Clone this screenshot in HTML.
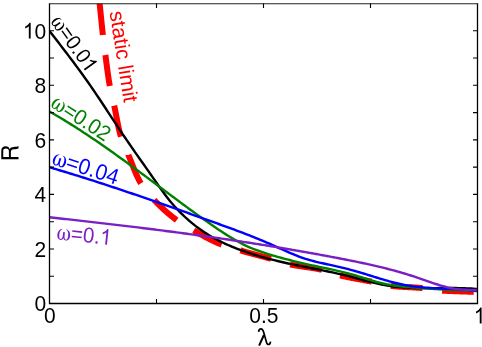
<!DOCTYPE html>
<html><head><meta charset="utf-8"><title>chart</title>
<style>html,body{margin:0;padding:0;background:#fff;}body{width:482px;height:347px;overflow:hidden;position:relative;font-family:"Liberation Sans",sans-serif;}</style>
</head><body>
<svg width="482" height="347" viewBox="0 0 482 347" style="position:absolute;left:0;top:0;will-change:transform">
<defs><clipPath id="c"><rect x="49.5" y="3.5" width="428" height="300"/></clipPath></defs>
<rect width="482" height="347" fill="#fff"/>
<g clip-path="url(#c)" fill="none" stroke-linejoin="round">
<path d="M96.50,-25.00 L96.50,-25.00 L96.61,-24.04 L96.71,-23.08 L96.82,-22.12 L96.93,-21.16 L97.03,-20.20 L97.14,-19.24 L97.25,-18.28 L97.35,-17.32 L97.46,-16.36 L97.57,-15.40 L97.67,-14.44 L97.78,-13.48 L97.88,-12.52 L97.99,-11.56 L98.09,-10.60 L98.20,-9.64 L98.30,-8.68 L98.41,-7.72 L98.51,-6.76 L98.62,-5.80 L98.72,-4.84 L98.82,-3.88 L98.93,-2.92 L99.03,-1.96 L99.14,-1.00 L99.24,-0.04 L99.34,0.92 L99.44,1.88 L99.55,2.84 L99.65,3.80 L99.75,4.76 L99.85,5.72 L99.95,6.68 L100.05,7.64 L100.15,8.60 L100.25,9.56 L100.35,10.53 L100.45,11.49 L100.54,12.45 L100.64,13.41 L100.74,14.37 L100.84,15.33 L100.93,16.29 L101.03,17.25 L101.13,18.21 L101.22,19.17 L101.32,20.13 L101.42,21.10 L101.51,22.06 L101.61,23.02 L101.71,23.98 L101.81,24.94 L101.91,25.90 L102.01,26.86 L102.11,27.82 L102.21,28.78 L102.32,29.74 L102.42,30.70 L102.53,31.66 L102.63,32.62 L102.74,33.58 L102.85,34.54 L102.90,35.00" stroke="#ff0000" stroke-width="6"/>
<path d="M105.40,55.00 L105.48,55.62 L105.61,56.58 L105.73,57.54 L105.86,58.50 L105.98,59.45 L106.11,60.41 L106.23,61.37 L106.35,62.33 L106.48,63.29 L106.60,64.25 L106.73,65.21 L106.85,66.16 L106.98,67.12 L107.10,68.08 L107.23,69.04 L107.36,70.00 L107.49,70.96 L107.62,71.91 L107.75,72.87 L107.89,73.83 L108.02,74.78 L108.16,75.74 L108.30,76.70 L108.44,77.65 L108.59,78.60 L108.73,79.56 L108.88,80.51 L109.04,81.46 L109.19,82.42 L109.35,83.37 L109.51,84.32 L109.67,85.27 L109.80,86.00" stroke="#ff0000" stroke-width="6"/>
<path d="M114.20,105.60 L114.29,106.00 L114.49,106.95 L114.69,107.90 L114.89,108.84 L115.08,109.79 L115.27,110.74 L115.46,111.69 L115.65,112.65 L115.83,113.60 L116.01,114.55 L116.20,115.50 L116.38,116.46 L116.56,117.41 L116.74,118.36 L116.93,119.32 L117.11,120.27 L117.30,121.22 L117.48,122.17 L117.67,123.12 L117.86,124.07 L118.06,125.02 L118.26,125.96 L118.46,126.91 L118.67,127.85 L118.88,128.79 L119.09,129.73 L119.31,130.67 L119.54,131.60 L119.77,132.53 L120.01,133.46 L120.25,134.39 L120.50,135.31 L120.76,136.23 L120.90,136.70" stroke="#ff0000" stroke-width="6"/>
<path d="M128.40,155.00 L128.40,155.01 L128.78,155.90 L129.15,156.79 L129.52,157.69 L129.88,158.59 L130.24,159.50 L130.61,160.40 L130.96,161.31 L131.32,162.21 L131.68,163.12 L132.04,164.03 L132.40,164.94 L132.76,165.85 L133.12,166.76 L133.48,167.66 L133.85,168.57 L134.21,169.47 L134.59,170.37 L134.96,171.27 L135.34,172.16 L135.72,173.05 L136.11,173.94 L136.50,174.82 L136.90,175.70 L137.31,176.57 L137.72,177.43 L138.14,178.29 L138.57,179.15 L139.01,179.99 L139.45,180.83 L139.91,181.66 L140.37,182.49 L140.84,183.30 L140.90,183.40" stroke="#ff0000" stroke-width="6"/>
<path d="M154.20,200.00 L154.76,200.60 L155.42,201.29 L156.09,201.98 L156.76,202.67 L157.43,203.36 L158.11,204.05 L158.80,204.73 L159.49,205.41 L160.18,206.09 L160.88,206.77 L161.58,207.44 L162.29,208.10 L163.00,208.77 L163.72,209.43 L164.43,210.09 L165.16,210.74 L165.88,211.38 L166.61,212.03 L167.35,212.66 L168.09,213.30 L168.83,213.93 L169.57,214.55 L170.32,215.17 L171.07,215.78 L171.82,216.38 L172.58,216.98 L173.34,217.58 L174.10,218.16 L174.87,218.74 L175.63,219.32 L176.40,219.88 L176.70,220.10" stroke="#ff0000" stroke-width="6"/>
<path d="M193.70,230.50 L194.52,230.96 L195.37,231.43 L196.21,231.90 L197.05,232.38 L197.90,232.85 L198.74,233.32 L199.59,233.79 L200.44,234.26 L201.29,234.73 L202.14,235.20 L202.99,235.67 L203.84,236.13 L204.70,236.60 L205.55,237.05 L206.41,237.51 L207.27,237.96 L208.13,238.41 L208.99,238.86 L209.86,239.29 L210.72,239.73 L211.59,240.16 L212.46,240.58 L213.33,241.00 L214.20,241.41 L215.08,241.82 L215.96,242.21 L216.84,242.60 L217.72,242.99 L218.60,243.36 L219.49,243.73 L220.38,244.09 L221.27,244.44 L221.70,244.60" stroke="#ff0000" stroke-width="6"/>
<path d="M240.40,250.40 L240.63,250.47 L241.55,250.74 L242.48,251.00 L243.41,251.27 L244.34,251.53 L245.27,251.79 L246.20,252.05 L247.13,252.31 L248.06,252.57 L248.99,252.82 L249.92,253.08 L250.86,253.33 L251.79,253.58 L252.72,253.83 L253.65,254.08 L254.59,254.33 L255.52,254.58 L256.45,254.83 L257.39,255.08 L258.32,255.33 L259.25,255.58 L260.18,255.83 L261.12,256.08 L262.05,256.33 L262.98,256.58 L263.92,256.84 L264.85,257.09 L265.78,257.35 L266.71,257.60 L267.64,257.86 L268.57,258.12 L269.50,258.38 L270.43,258.64 L271.00,258.80" stroke="#ff0000" stroke-width="6"/>
<path d="M290.10,264.40 L290.83,264.56 L291.77,264.76 L292.72,264.94 L293.66,265.13 L294.61,265.30 L295.56,265.47 L296.51,265.64 L297.46,265.80 L298.42,265.95 L299.37,266.10 L300.33,266.25 L301.29,266.39 L302.25,266.54 L303.21,266.68 L304.17,266.82 L305.13,266.96 L306.08,267.09 L307.04,267.23 L308.00,267.37 L308.96,267.51 L309.92,267.65 L310.88,267.80 L311.84,267.94 L312.79,268.09 L313.75,268.25 L314.70,268.40 L315.65,268.57 L316.60,268.73 L317.55,268.91 L318.49,269.09 L319.44,269.28 L320.38,269.47 L321.32,269.67 L321.90,269.80" stroke="#ff0000" stroke-width="6"/>
<path d="M340.10,275.40 L340.72,275.55 L341.65,275.78 L342.59,276.00 L343.53,276.21 L344.47,276.42 L345.41,276.63 L346.36,276.83 L347.30,277.03 L348.24,277.22 L349.19,277.41 L350.14,277.60 L351.09,277.79 L352.03,277.97 L352.98,278.15 L353.93,278.33 L354.88,278.51 L355.83,278.68 L356.79,278.86 L357.74,279.03 L358.69,279.21 L359.64,279.38 L360.59,279.56 L361.54,279.73 L362.49,279.91 L363.45,280.08 L364.40,280.26 L365.35,280.44 L366.30,280.62 L367.25,280.80 L368.19,280.99 L369.14,281.18 L370.09,281.37 L371.04,281.56 L371.70,281.70" stroke="#ff0000" stroke-width="6"/>
<path d="M390.90,285.90 L391.80,286.00 L392.76,286.09 L393.71,286.19 L394.67,286.27 L395.63,286.36 L396.59,286.43 L397.55,286.51 L398.51,286.58 L399.47,286.64 L400.44,286.71 L401.40,286.77 L402.37,286.83 L403.33,286.88 L404.30,286.94 L405.26,286.99 L406.23,287.05 L407.20,287.10 L408.16,287.15 L409.13,287.20 L410.10,287.25 L411.07,287.31 L412.03,287.36 L413.00,287.41 L413.97,287.47 L414.93,287.53 L415.90,287.59 L416.86,287.66 L417.83,287.72 L418.79,287.79 L419.76,287.87 L420.72,287.94 L421.68,288.03 L422.50,288.10" stroke="#ff0000" stroke-width="6"/>
<path d="M442.10,290.60 L442.76,290.64 L443.72,290.70 L444.69,290.76 L445.65,290.81 L446.61,290.86 L447.57,290.91 L448.54,290.95 L449.50,291.00 L450.47,291.04 L451.43,291.08 L452.40,291.12 L453.36,291.15 L454.33,291.19 L455.29,291.22 L456.26,291.26 L457.22,291.29 L458.19,291.32 L459.16,291.35 L460.12,291.39 L461.09,291.42 L462.05,291.45 L463.02,291.48 L463.99,291.51 L464.95,291.55 L465.92,291.58 L466.88,291.61 L467.85,291.65 L468.82,291.69 L469.78,291.72 L470.75,291.76 L471.71,291.80 L472.68,291.85 L473.64,291.89 L473.80,291.90" stroke="#ff0000" stroke-width="6"/>
<path d="M49.50,30.90 L51.65,33.71 L53.80,36.51 L55.95,39.31 L58.10,42.10 L60.25,44.89 L62.40,47.69 L64.56,50.50 L66.71,53.31 L68.86,56.13 L71.01,58.97 L73.16,61.83 L75.31,64.70 L77.46,67.60 L79.61,70.52 L81.76,73.47 L83.91,76.45 L86.06,79.47 L88.21,82.52 L90.36,85.61 L92.52,88.73 L94.67,91.89 L96.82,95.08 L98.97,98.29 L101.12,101.52 L103.27,104.77 L105.42,108.03 L107.57,111.29 L109.72,114.57 L111.87,117.84 L114.02,121.11 L116.17,124.37 L118.32,127.61 L120.47,130.84 L122.63,134.05 L124.78,137.24 L126.93,140.40 L129.08,143.53 L131.23,146.65 L133.38,149.74 L135.53,152.82 L137.68,155.88 L139.83,158.94 L141.98,162.00 L144.13,165.05 L146.28,168.11 L148.43,171.17 L150.59,174.25 L152.74,177.34 L154.89,180.43 L157.04,183.52 L159.19,186.58 L161.34,189.60 L163.49,192.55 L165.64,195.43 L167.79,198.21 L169.94,200.88 L172.09,203.46 L174.24,205.94 L176.39,208.33 L178.55,210.63 L180.70,212.84 L182.85,214.96 L185.00,217.00 L187.15,218.96 L189.30,220.85 L191.45,222.67 L193.60,224.41 L195.75,226.09 L197.90,227.71 L200.05,229.26 L202.20,230.76 L204.35,232.20 L206.51,233.59 L208.66,234.93 L210.81,236.22 L212.96,237.46 L215.11,238.66 L217.26,239.81 L219.41,240.93 L221.56,242.00 L223.71,243.04 L225.86,244.04 L228.01,245.00 L230.16,245.93 L232.31,246.83 L234.46,247.70 L236.62,248.55 L238.77,249.36 L240.92,250.16 L243.07,250.93 L245.22,251.68 L247.37,252.41 L249.52,253.13 L251.67,253.82 L253.82,254.50 L255.97,255.16 L258.12,255.81 L260.27,256.44 L262.42,257.06 L264.58,257.66 L266.73,258.24 L268.88,258.82 L271.03,259.38 L273.18,259.92 L275.33,260.46 L277.48,260.99 L279.63,261.50 L281.78,262.00 L283.93,262.50 L286.08,262.98 L288.23,263.46 L290.38,263.93 L292.54,264.39 L294.69,264.84 L296.84,265.29 L298.99,265.73 L301.14,266.17 L303.29,266.60 L305.44,267.03 L307.59,267.45 L309.74,267.87 L311.89,268.29 L314.04,268.71 L316.19,269.13 L318.34,269.55 L320.49,269.98 L322.65,270.41 L324.80,270.84 L326.95,271.28 L329.10,271.72 L331.25,272.18 L333.40,272.64 L335.55,273.11 L337.70,273.59 L339.85,274.09 L342.00,274.60 L344.15,275.12 L346.30,275.65 L348.45,276.20 L350.61,276.76 L352.76,277.33 L354.91,277.91 L357.06,278.49 L359.21,279.07 L361.36,279.65 L363.51,280.22 L365.66,280.79 L367.81,281.35 L369.96,281.90 L372.11,282.43 L374.26,282.94 L376.41,283.44 L378.57,283.92 L380.72,284.37 L382.87,284.79 L385.02,285.19 L387.17,285.55 L389.32,285.88 L391.47,286.19 L393.62,286.46 L395.77,286.71 L397.92,286.94 L400.07,287.14 L402.22,287.31 L404.37,287.47 L406.53,287.60 L408.68,287.72 L410.83,287.82 L412.98,287.90 L415.13,287.97 L417.28,288.02 L419.43,288.06 L421.58,288.09 L423.73,288.11 L425.88,288.12 L428.03,288.12 L430.18,288.12 L432.33,288.11 L434.48,288.10 L436.64,288.08 L438.79,288.07 L440.94,288.05 L443.09,288.04 L445.24,288.03 L447.39,288.02 L449.54,288.01 L451.69,288.02 L453.84,288.03 L455.99,288.05 L458.14,288.08 L460.29,288.12 L462.44,288.18 L464.60,288.24 L466.75,288.33 L468.90,288.43 L471.05,288.55 L473.20,288.69 L475.35,288.84 L477.50,289.02" stroke="#000" stroke-width="2.4"/>
<path d="M49.50,111.51 L51.65,112.73 L53.80,113.97 L55.95,115.22 L58.10,116.49 L60.25,117.77 L62.40,119.06 L64.56,120.37 L66.71,121.68 L68.86,123.02 L71.01,124.36 L73.16,125.71 L75.31,127.08 L77.46,128.46 L79.61,129.84 L81.76,131.24 L83.91,132.65 L86.06,134.07 L88.21,135.50 L90.36,136.94 L92.52,138.39 L94.67,139.85 L96.82,141.32 L98.97,142.79 L101.12,144.28 L103.27,145.77 L105.42,147.27 L107.57,148.78 L109.72,150.29 L111.87,151.82 L114.02,153.34 L116.17,154.88 L118.32,156.42 L120.47,157.97 L122.63,159.52 L124.78,161.08 L126.93,162.65 L129.08,164.21 L131.23,165.79 L133.38,167.37 L135.53,168.95 L137.68,170.53 L139.83,172.12 L141.98,173.72 L144.13,175.31 L146.28,176.91 L148.43,178.51 L150.59,180.11 L152.74,181.72 L154.89,183.33 L157.04,184.94 L159.19,186.54 L161.34,188.16 L163.49,189.77 L165.64,191.38 L167.79,192.99 L169.94,194.60 L172.09,196.20 L174.24,197.81 L176.39,199.41 L178.55,201.01 L180.70,202.61 L182.85,204.20 L185.00,205.79 L187.15,207.37 L189.30,208.95 L191.45,210.52 L193.60,212.09 L195.75,213.64 L197.90,215.19 L200.05,216.74 L202.20,218.27 L204.35,219.79 L206.51,221.31 L208.66,222.81 L210.81,224.30 L212.96,225.79 L215.11,227.26 L217.26,228.71 L219.41,230.16 L221.56,231.59 L223.71,233.00 L225.86,234.38 L228.01,235.75 L230.16,237.08 L232.31,238.38 L234.46,239.65 L236.62,240.88 L238.77,242.07 L240.92,243.22 L243.07,244.32 L245.22,245.37 L247.37,246.38 L249.52,247.33 L251.67,248.24 L253.82,249.10 L255.97,249.93 L258.12,250.72 L260.27,251.48 L262.42,252.22 L264.58,252.92 L266.73,253.61 L268.88,254.28 L271.03,254.93 L273.18,255.57 L275.33,256.20 L277.48,256.81 L279.63,257.41 L281.78,258.01 L283.93,258.59 L286.08,259.16 L288.23,259.71 L290.38,260.26 L292.54,260.80 L294.69,261.33 L296.84,261.86 L298.99,262.37 L301.14,262.87 L303.29,263.37 L305.44,263.86 L307.59,264.35 L309.74,264.82 L311.89,265.30 L314.04,265.76 L316.19,266.22 L318.34,266.68 L320.49,267.13 L322.65,267.58 L324.80,268.03 L326.95,268.48 L329.10,268.94 L331.25,269.40 L333.40,269.86 L335.55,270.34 L337.70,270.82 L339.85,271.32 L342.00,271.83 L344.15,272.36 L346.30,272.90 L348.45,273.46 L350.61,274.04 L352.76,274.64 L354.91,275.27 L357.06,275.92 L359.21,276.57 L361.36,277.24 L363.51,277.91 L365.66,278.59 L367.81,279.26 L369.96,279.92 L372.11,280.57 L374.26,281.20 L376.41,281.81 L378.57,282.39 L380.72,282.95 L382.87,283.47 L385.02,283.95 L387.17,284.39 L389.32,284.79 L391.47,285.15 L393.62,285.48 L395.77,285.78 L397.92,286.05 L400.07,286.30 L402.22,286.53 L404.37,286.74 L406.53,286.94 L408.68,287.13 L410.83,287.31 L412.98,287.49 L415.13,287.66 L417.28,287.83 L419.43,287.99 L421.58,288.15 L423.73,288.30 L425.88,288.45 L428.03,288.60 L430.18,288.74 L432.33,288.87 L434.48,289.01 L436.64,289.14 L438.79,289.26 L440.94,289.38 L443.09,289.50 L445.24,289.61 L447.39,289.72 L449.54,289.83 L451.69,289.94 L453.84,290.04 L455.99,290.14 L458.14,290.24 L460.29,290.33 L462.44,290.42 L464.60,290.51 L466.75,290.60 L468.90,290.68 L471.05,290.77 L473.20,290.85 L475.35,290.93 L477.50,291.01" stroke="#008000" stroke-width="2.4"/>
<path d="M49.50,167.30 L51.65,167.93 L53.80,168.56 L55.95,169.20 L58.10,169.83 L60.25,170.48 L62.40,171.12 L64.56,171.77 L66.71,172.42 L68.86,173.07 L71.01,173.73 L73.16,174.39 L75.31,175.06 L77.46,175.72 L79.61,176.39 L81.76,177.07 L83.91,177.74 L86.06,178.42 L88.21,179.10 L90.36,179.79 L92.52,180.47 L94.67,181.16 L96.82,181.86 L98.97,182.55 L101.12,183.25 L103.27,183.95 L105.42,184.65 L107.57,185.36 L109.72,186.06 L111.87,186.77 L114.02,187.49 L116.17,188.20 L118.32,188.92 L120.47,189.64 L122.63,190.36 L124.78,191.08 L126.93,191.80 L129.08,192.53 L131.23,193.26 L133.38,193.99 L135.53,194.72 L137.68,195.46 L139.83,196.19 L141.98,196.93 L144.13,197.67 L146.28,198.41 L148.43,199.15 L150.59,199.90 L152.74,200.64 L154.89,201.39 L157.04,202.14 L159.19,202.89 L161.34,203.64 L163.49,204.39 L165.64,205.14 L167.79,205.90 L169.94,206.65 L172.09,207.41 L174.24,208.17 L176.39,208.93 L178.55,209.69 L180.70,210.45 L182.85,211.21 L185.00,211.97 L187.15,212.74 L189.30,213.50 L191.45,214.26 L193.60,215.03 L195.75,215.79 L197.90,216.56 L200.05,217.33 L202.20,218.09 L204.35,218.86 L206.51,219.63 L208.66,220.40 L210.81,221.17 L212.96,221.93 L215.11,222.70 L217.26,223.47 L219.41,224.25 L221.56,225.02 L223.71,225.79 L225.86,226.57 L228.01,227.36 L230.16,228.14 L232.31,228.93 L234.46,229.73 L236.62,230.53 L238.77,231.33 L240.92,232.14 L243.07,232.96 L245.22,233.79 L247.37,234.62 L249.52,235.46 L251.67,236.31 L253.82,237.17 L255.97,238.04 L258.12,238.92 L260.27,239.81 L262.42,240.70 L264.58,241.62 L266.73,242.54 L268.88,243.47 L271.03,244.42 L273.18,245.38 L275.33,246.35 L277.48,247.32 L279.63,248.29 L281.78,249.26 L283.93,250.23 L286.08,251.18 L288.23,252.12 L290.38,253.05 L292.54,253.95 L294.69,254.83 L296.84,255.69 L298.99,256.52 L301.14,257.31 L303.29,258.06 L305.44,258.77 L307.59,259.45 L309.74,260.08 L311.89,260.68 L314.04,261.25 L316.19,261.79 L318.34,262.30 L320.49,262.80 L322.65,263.28 L324.80,263.76 L326.95,264.22 L329.10,264.68 L331.25,265.14 L333.40,265.60 L335.55,266.07 L337.70,266.55 L339.85,267.05 L342.00,267.56 L344.15,268.10 L346.30,268.65 L348.45,269.21 L350.61,269.79 L352.76,270.39 L354.91,270.99 L357.06,271.61 L359.21,272.24 L361.36,272.87 L363.51,273.52 L365.66,274.17 L367.81,274.83 L369.96,275.49 L372.11,276.15 L374.26,276.81 L376.41,277.48 L378.57,278.14 L380.72,278.79 L382.87,279.44 L385.02,280.08 L387.17,280.70 L389.32,281.31 L391.47,281.90 L393.62,282.47 L395.77,283.02 L397.92,283.54 L400.07,284.03 L402.22,284.50 L404.37,284.93 L406.53,285.33 L408.68,285.69 L410.83,286.02 L412.98,286.33 L415.13,286.61 L417.28,286.86 L419.43,287.09 L421.58,287.30 L423.73,287.49 L425.88,287.66 L428.03,287.82 L430.18,287.96 L432.33,288.08 L434.48,288.20 L436.64,288.31 L438.79,288.41 L440.94,288.50 L443.09,288.59 L445.24,288.68 L447.39,288.76 L449.54,288.85 L451.69,288.94 L453.84,289.04 L455.99,289.14 L458.14,289.25 L460.29,289.37 L462.44,289.50 L464.60,289.65 L466.75,289.81 L468.90,289.99 L471.05,290.18 L473.20,290.40 L475.35,290.64 L477.50,290.90" stroke="#0000ff" stroke-width="2.4"/>
<path d="M49.50,217.30 L51.65,217.54 L53.80,217.77 L55.95,218.00 L58.10,218.24 L60.25,218.48 L62.40,218.71 L64.56,218.95 L66.71,219.18 L68.86,219.42 L71.01,219.66 L73.16,219.90 L75.31,220.14 L77.46,220.38 L79.61,220.62 L81.76,220.86 L83.91,221.10 L86.06,221.35 L88.21,221.59 L90.36,221.84 L92.52,222.08 L94.67,222.33 L96.82,222.57 L98.97,222.82 L101.12,223.07 L103.27,223.32 L105.42,223.57 L107.57,223.82 L109.72,224.07 L111.87,224.32 L114.02,224.57 L116.17,224.83 L118.32,225.08 L120.47,225.34 L122.63,225.60 L124.78,225.85 L126.93,226.11 L129.08,226.37 L131.23,226.63 L133.38,226.89 L135.53,227.16 L137.68,227.42 L139.83,227.68 L141.98,227.95 L144.13,228.22 L146.28,228.48 L148.43,228.75 L150.59,229.02 L152.74,229.29 L154.89,229.56 L157.04,229.84 L159.19,230.11 L161.34,230.39 L163.49,230.66 L165.64,230.94 L167.79,231.22 L169.94,231.50 L172.09,231.78 L174.24,232.06 L176.39,232.35 L178.55,232.63 L180.70,232.92 L182.85,233.20 L185.00,233.49 L187.15,233.78 L189.30,234.07 L191.45,234.37 L193.60,234.66 L195.75,234.96 L197.90,235.25 L200.05,235.55 L202.20,235.85 L204.35,236.15 L206.51,236.45 L208.66,236.76 L210.81,237.06 L212.96,237.37 L215.11,237.68 L217.26,237.99 L219.41,238.30 L221.56,238.61 L223.71,238.92 L225.86,239.24 L228.01,239.55 L230.16,239.87 L232.31,240.19 L234.46,240.51 L236.62,240.84 L238.77,241.16 L240.92,241.49 L243.07,241.82 L245.22,242.15 L247.37,242.48 L249.52,242.81 L251.67,243.15 L253.82,243.48 L255.97,243.82 L258.12,244.16 L260.27,244.50 L262.42,244.84 L264.58,245.19 L266.73,245.54 L268.88,245.88 L271.03,246.23 L273.18,246.59 L275.33,246.94 L277.48,247.30 L279.63,247.65 L281.78,248.01 L283.93,248.37 L286.08,248.74 L288.23,249.10 L290.38,249.47 L292.54,249.84 L294.69,250.21 L296.84,250.58 L298.99,250.95 L301.14,251.33 L303.29,251.71 L305.44,252.09 L307.59,252.47 L309.74,252.86 L311.89,253.24 L314.04,253.63 L316.19,254.02 L318.34,254.42 L320.49,254.81 L322.65,255.21 L324.80,255.61 L326.95,256.01 L329.10,256.41 L331.25,256.82 L333.40,257.22 L335.55,257.63 L337.70,258.05 L339.85,258.46 L342.00,258.88 L344.15,259.30 L346.30,259.72 L348.45,260.14 L350.61,260.57 L352.76,261.00 L354.91,261.44 L357.06,261.88 L359.21,262.33 L361.36,262.78 L363.51,263.24 L365.66,263.70 L367.81,264.17 L369.96,264.65 L372.11,265.13 L374.26,265.63 L376.41,266.12 L378.57,266.63 L380.72,267.15 L382.87,267.67 L385.02,268.21 L387.17,268.75 L389.32,269.31 L391.47,269.87 L393.62,270.45 L395.77,271.03 L397.92,271.63 L400.07,272.24 L402.22,272.86 L404.37,273.50 L406.53,274.15 L408.68,274.81 L410.83,275.48 L412.98,276.17 L415.13,276.87 L417.28,277.59 L419.43,278.32 L421.58,279.07 L423.73,279.82 L425.88,280.58 L428.03,281.33 L430.18,282.09 L432.33,282.83 L434.48,283.55 L436.64,284.26 L438.79,284.94 L440.94,285.59 L443.09,286.21 L445.24,286.78 L447.39,287.32 L449.54,287.80 L451.69,288.23 L453.84,288.61 L455.99,288.92 L458.14,289.19 L460.29,289.41 L462.44,289.59 L464.60,289.73 L466.75,289.84 L468.90,289.92 L471.05,289.98 L473.20,290.02 L475.35,290.04 L477.50,290.06" stroke="#7a1fc4" stroke-width="2.4"/>
</g>
<g stroke="#000" stroke-width="1.3" fill="none">
<path d="M49.5,3.5 V303.5 H477.5 V3.5" stroke-linejoin="miter"/>
<path d="M48.9,3.75 H478.1" stroke="#222" stroke-width="1.05"/>
<path d="M156.5,303.5 v-4.5 M156.5,3.5 v4.5 M263.5,303.5 v-4.5 M263.5,3.5 v4.5 M370.5,303.5 v-4.5 M370.5,3.5 v4.5 M49.5,276.23 h4.5 M477.5,276.23 h-4.5 M49.5,248.95 h4.5 M477.5,248.95 h-4.5 M49.5,221.68 h4.5 M477.5,221.68 h-4.5 M49.5,194.41 h4.5 M477.5,194.41 h-4.5 M49.5,167.14 h4.5 M477.5,167.14 h-4.5 M49.5,139.86 h4.5 M477.5,139.86 h-4.5 M49.5,112.59 h4.5 M477.5,112.59 h-4.5 M49.5,85.32 h4.5 M477.5,85.32 h-4.5 M49.5,58.05 h4.5 M477.5,58.05 h-4.5 M49.5,30.77 h4.5 M477.5,30.77 h-4.5" stroke-width="1.1"/>
</g>
<g transform="translate(46.2,311.25)"><g transform="scale(1,1.05)" fill="#000" font-family="Liberation Sans, sans-serif" font-size="21"><text x="-11.68">0</text></g></g>
<g transform="translate(46.2,256.70)"><g transform="scale(1,1.05)" fill="#000" font-family="Liberation Sans, sans-serif" font-size="21"><text x="-11.68">2</text></g></g>
<g transform="translate(46.2,202.16)"><g transform="scale(1,1.05)" fill="#000" font-family="Liberation Sans, sans-serif" font-size="21"><text x="-11.68">4</text></g></g>
<g transform="translate(46.2,147.61)"><g transform="scale(1,1.05)" fill="#000" font-family="Liberation Sans, sans-serif" font-size="21"><text x="-11.68">6</text></g></g>
<g transform="translate(46.2,93.07)"><g transform="scale(1,1.05)" fill="#000" font-family="Liberation Sans, sans-serif" font-size="21"><text x="-11.68">8</text></g></g>
<g transform="translate(46.2,38.52)"><g transform="scale(1,1.05)" fill="#000" font-family="Liberation Sans, sans-serif" font-size="21"><path transform="translate(-23.35,0) scale(0.01025,-0.01025)" d="M763 0H583V1147Q518 1085 412.5 1023Q307 961 223 930V1104Q374 1175 487 1276Q600 1377 647 1472H763Z"/><text x="-11.68">0</text></g></g>
<g transform="translate(49.90,323.4)"><g transform="scale(1,1.05)" fill="#000" font-family="Liberation Sans, sans-serif" font-size="21"><text x="-5.84">0</text></g></g>
<g transform="translate(263.90,323.4)"><g transform="scale(1,1.05)" fill="#000" font-family="Liberation Sans, sans-serif" font-size="21"><text x="-14.60">0</text><text x="-2.92">.</text><text x="2.92">5</text></g></g>
<g transform="translate(479.60,323.4)"><g transform="scale(1,1.05)" fill="#000" font-family="Liberation Sans, sans-serif" font-size="21"><path transform="translate(-5.84,0) scale(0.01025,-0.01025)" d="M763 0H583V1147Q518 1085 412.5 1023Q307 961 223 930V1104Q374 1175 487 1276Q600 1377 647 1472H763Z"/></g></g>
<g font-family="Liberation Sans, sans-serif" fill="#000">
<g transform="translate(0.2,0.4)" fill="none" stroke="#000" stroke-linecap="butt" stroke-linejoin="round"><path d="M258.4,331.4 C258.6,329.4 259.5,328.4 260.8,328.4 C262.2,328.4 262.8,329.6 263.4,331.6 L266.2,341.5 C266.7,343.3 267.4,344.1 268.4,344.1 C269.5,344.1 270.1,343.0 270.3,341.2" stroke-width="1.7"/><path d="M263.7,334.6 L258.9,345.2" stroke-width="2.0"/></g>
<path transform="translate(18.5,161.4) rotate(-90) scale(0.0232,-0.0240)" fill-rule="evenodd" d="M90,0 L90,718 L460,718 C575,718 650,650 650,535 C650,445 600,385 520,365 C590,340 610,290 618,200 C624,120 630,50 660,0 L555,0 C535,40 530,110 522,190 C514,280 480,318 400,318 L185,318 L185,0 Z M185,400 L185,636 L450,636 C520,636 552,595 552,520 C552,440 510,400 440,400 Z"/>
</g>
<g transform="translate(50,21.5) rotate(54.5)"><g transform="scale(1,1.05)" fill="#000" font-family="Liberation Sans, sans-serif" font-size="19.8"><path transform="translate(0.00,0) scale(0.01980,-0.01886)" d="M245,540 C120,515 30,400 30,245 C30,90 100,-12 210,-12 C282,-12 326,35 343,95 C360,35 402,-12 476,-12 C586,-12 656,90 656,245 C656,400 566,515 441,540 L437,512 C520,482 560,380 560,245 C560,112 532,32 472,32 C415,32 385,112 385,205 L385,385 L301,385 L301,205 C301,112 271,32 214,32 C154,32 126,112 126,245 C126,380 166,482 249,512 Z"/><text x="13.58">=</text><text x="25.15">0</text><text x="36.15">.</text><text x="41.66">0</text><path transform="translate(52.67,0) scale(0.00967,-0.00967)" d="M763 0H583V1147Q518 1085 412.5 1023Q307 961 223 930V1104Q374 1175 487 1276Q600 1377 647 1472H763Z"/></g></g>
<g transform="translate(109.5,12) rotate(81) scale(1,1.0)" fill="#ff0000" font-family="Liberation Sans, sans-serif" font-size="21"><text>static limit</text></g>
<g transform="translate(49.6,106) rotate(33)"><g transform="scale(1,1.05)" fill="#008000" font-family="Liberation Sans, sans-serif" font-size="20.5"><path transform="translate(0.00,0) scale(0.02050,-0.01952)" d="M245,540 C120,515 30,400 30,245 C30,90 100,-12 210,-12 C282,-12 326,35 343,95 C360,35 402,-12 476,-12 C586,-12 656,90 656,245 C656,400 566,515 441,540 L437,512 C520,482 560,380 560,245 C560,112 532,32 472,32 C415,32 385,112 385,205 L385,385 L301,385 L301,205 C301,112 271,32 214,32 C154,32 126,112 126,245 C126,380 166,482 249,512 Z"/><text x="14.06">=</text><text x="26.04">0</text><text x="37.43">.</text><text x="43.13">0</text><text x="54.53">2</text></g></g>
<g transform="translate(51,163.8) rotate(18)"><g transform="scale(1,1.05)" fill="#0000ff" font-family="Liberation Sans, sans-serif" font-size="21.2"><path transform="translate(0.00,0) scale(0.02120,-0.02019)" d="M245,540 C120,515 30,400 30,245 C30,90 100,-12 210,-12 C282,-12 326,35 343,95 C360,35 402,-12 476,-12 C586,-12 656,90 656,245 C656,400 566,515 441,540 L437,512 C520,482 560,380 560,245 C560,112 532,32 472,32 C415,32 385,112 385,205 L385,385 L301,385 L301,205 C301,112 271,32 214,32 C154,32 126,112 126,245 C126,380 166,482 249,512 Z"/><text x="14.54">=</text><text x="26.92">0</text><text x="38.71">.</text><text x="44.60">0</text><text x="56.39">4</text></g></g>
<g transform="translate(56.2,239.3) rotate(6)"><g transform="scale(1,1.05)" fill="#7a1fc4" font-family="Liberation Sans, sans-serif" font-size="20.6"><path transform="translate(0.00,0) scale(0.02060,-0.01962)" d="M245,540 C120,515 30,400 30,245 C30,90 100,-12 210,-12 C282,-12 326,35 343,95 C360,35 402,-12 476,-12 C586,-12 656,90 656,245 C656,400 566,515 441,540 L437,512 C520,482 560,380 560,245 C560,112 532,32 472,32 C415,32 385,112 385,205 L385,385 L301,385 L301,205 C301,112 271,32 214,32 C154,32 126,112 126,245 C126,380 166,482 249,512 Z"/><text x="14.13">=</text><text x="26.16">0</text><text x="37.62">.</text><path transform="translate(43.34,0) scale(0.01006,-0.01006)" d="M763 0H583V1147Q518 1085 412.5 1023Q307 961 223 930V1104Q374 1175 487 1276Q600 1377 647 1472H763Z"/></g></g>
</svg>
</body></html>
